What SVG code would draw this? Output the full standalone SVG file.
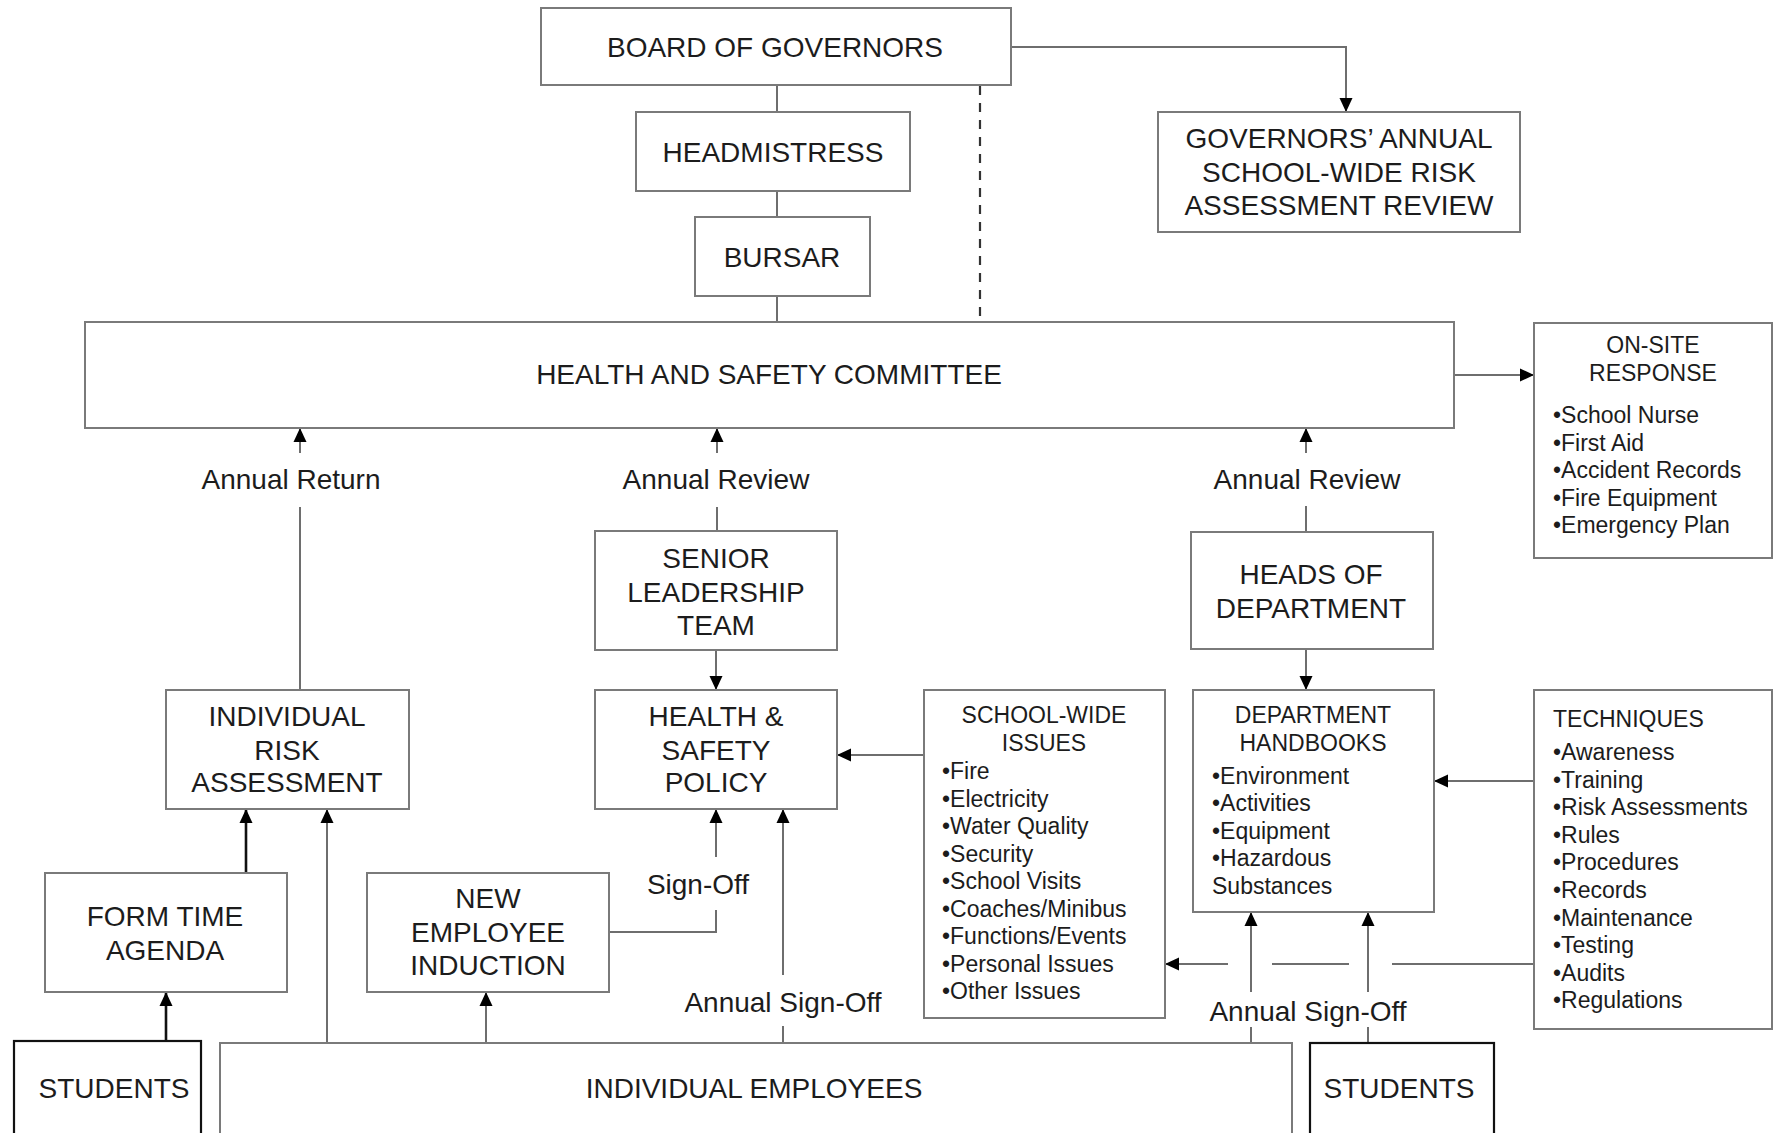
<svg xmlns="http://www.w3.org/2000/svg" width="1774" height="1133" viewBox="0 0 1774 1133">
<style>
.b{fill:#fff;stroke:#7a7a7a;stroke-width:2}
.s{fill:#fff;stroke:#111;stroke-width:2.2}
.t{font-family:"Liberation Sans",Arial,sans-serif;font-size:28px;fill:#1c1c1c;text-anchor:middle}
.m{font-family:"Liberation Sans",Arial,sans-serif;font-size:23px;fill:#1c1c1c;text-anchor:middle}
.l{font-family:"Liberation Sans",Arial,sans-serif;font-size:23px;fill:#1c1c1c;text-anchor:start}
.c{fill:none;stroke:#6e6e6e;stroke-width:2}
.k{fill:none;stroke:#111;stroke-width:2.6}
.d{fill:none;stroke:#333;stroke-width:2.2;stroke-dasharray:9 8}
</style>
<defs>
<marker id="ah" viewBox="0 0 14 14" refX="14" refY="7" markerWidth="14" markerHeight="14" markerUnits="userSpaceOnUse" orient="auto">
<path d="M0,0.5 L14,7 L0,13.5 z" fill="#000"/>
</marker>
</defs>
<rect width="1774" height="1133" fill="#fff"/>

<g id="connectors">
<path class="c" d="M777,85 V112"/>
<path class="c" d="M777,191 V217"/>
<path class="c" d="M777,296 V322"/>
<path class="d" d="M980,86 V322"/>
<path class="c" d="M1011,47 H1346 V112" marker-end="url(#ah)"/>
<path class="c" d="M1454,375 H1534" marker-end="url(#ah)"/>
<path class="c" d="M300,453 V428" marker-end="url(#ah)"/>
<path class="c" d="M300,507 V690"/>
<path class="c" d="M717,453 V428" marker-end="url(#ah)"/>
<path class="c" d="M717,507 V531"/>
<path class="c" d="M1306,453 V428" marker-end="url(#ah)"/>
<path class="c" d="M1306,506 V532"/>
<path class="c" d="M716,650 V690" marker-end="url(#ah)"/>
<path class="c" d="M1306,649 V690" marker-end="url(#ah)"/>
<path class="c" d="M924,755 H837" marker-end="url(#ah)"/>
<path class="c" d="M1534,781 H1434" marker-end="url(#ah)"/>
<path class="c" d="M1534,964 H1392"/>
<path class="c" d="M1349,964 H1272"/>
<path class="c" d="M1228,964 H1165" marker-end="url(#ah)"/>
<path class="c" d="M1251,992 V912" marker-end="url(#ah)"/>
<path class="c" d="M1368,992 V912" marker-end="url(#ah)"/>
<path class="c" d="M1251,1027 V1043"/>
<path class="c" d="M1368,1027 V1043"/>
<path class="k" d="M246,873 V809" marker-end="url(#ah)"/>
<path class="k" d="M166,1040 V992" marker-end="url(#ah)"/>
<path class="c" d="M327,1043 V809" marker-end="url(#ah)"/>
<path class="c" d="M486,1043 V992" marker-end="url(#ah)"/>
<path class="c" d="M609,932 H716 V910"/>
<path class="c" d="M716,857 V809" marker-end="url(#ah)"/>
<path class="c" d="M783,1026 V1043"/>
<path class="c" d="M783,975 V809" marker-end="url(#ah)"/>
</g>

<g id="board">
<rect class="b" x="541" y="8" width="470" height="77"/>
<text class="t" x="775" y="57">BOARD OF GOVERNORS</text>
</g>
<g id="headmistress">
<rect class="b" x="636" y="112" width="274" height="79"/>
<text class="t" x="773" y="162">HEADMISTRESS</text>
</g>
<g id="bursar">
<rect class="b" x="695" y="217" width="175" height="79"/>
<text class="t" x="782" y="267">BURSAR</text>
</g>
<g id="hsc">
<rect class="b" x="85" y="322" width="1369" height="106"/>
<text class="t" x="769" y="384">HEALTH AND SAFETY  COMMITTEE</text>
</g>
<g id="review">
<rect class="b" x="1158" y="112" width="362" height="120"/>
<text class="t" x="1339" y="148">GOVERNORS’ ANNUAL</text>
<text class="t" x="1339" y="182">SCHOOL-WIDE RISK</text>
<text class="t" x="1339" y="215">ASSESSMENT  REVIEW</text>
</g>
<g id="onsite">
<rect class="b" x="1534" y="323" width="238" height="235"/>
<text class="m" x="1653" y="353">ON-SITE</text>
<text class="m" x="1653" y="381">RESPONSE</text>
<text class="l" x="1553" y="423">•School Nurse</text>
<text class="l" x="1553" y="451">•First Aid</text>
<text class="l" x="1553" y="478">•Accident Records</text>
<text class="l" x="1553" y="506">•Fire Equipment</text>
<text class="l" x="1553" y="533">•Emergency Plan</text>
</g>
<g id="labels">
<text class="t" x="291" y="489">Annual  Return</text>
<text class="t" x="716" y="489">Annual  Review</text>
<text class="t" x="1307" y="489">Annual  Review</text>
<text class="t" x="698" y="894">Sign-Off</text>
<text class="t" x="783" y="1012">Annual  Sign-Off</text>
<text class="t" x="1308" y="1021">Annual  Sign-Off</text>
</g>
<g id="slt">
<rect class="b" x="595" y="531" width="242" height="119"/>
<text class="t" x="716" y="568">SENIOR</text>
<text class="t" x="716" y="602">LEADERSHIP</text>
<text class="t" x="716" y="635">TEAM</text>
</g>
<g id="hod">
<rect class="b" x="1191" y="532" width="242" height="117"/>
<text class="t" x="1311" y="584">HEADS OF</text>
<text class="t" x="1311" y="618">DEPARTMENT</text>
</g>
<g id="ira">
<rect class="b" x="166" y="690" width="243" height="119"/>
<text class="t" x="287" y="726">INDIVIDUAL</text>
<text class="t" x="287" y="760">RISK</text>
<text class="t" x="287" y="792">ASSESSMENT</text>
</g>
<g id="hsp">
<rect class="b" x="595" y="690" width="242" height="119"/>
<text class="t" x="716" y="726">HEALTH &amp;</text>
<text class="t" x="716" y="760">SAFETY</text>
<text class="t" x="716" y="792">POLICY</text>
</g>
<g id="swi">
<rect class="b" x="924" y="690" width="241" height="328"/>
<text class="m" x="1044" y="723">SCHOOL-WIDE</text>
<text class="m" x="1044" y="751">ISSUES</text>
<text class="l" x="942" y="779">•Fire</text>
<text class="l" x="942" y="807">•Electricity</text>
<text class="l" x="942" y="834">•Water Quality</text>
<text class="l" x="942" y="862">•Security</text>
<text class="l" x="942" y="889">•School Visits</text>
<text class="l" x="942" y="917">•Coaches/Minibus</text>
<text class="l" x="942" y="944">•Functions/Events</text>
<text class="l" x="942" y="972">•Personal Issues</text>
<text class="l" x="942" y="999">•Other Issues</text>
</g>
<g id="dh">
<rect class="b" x="1193" y="690" width="241" height="222"/>
<text class="m" x="1313" y="723">DEPARTMENT</text>
<text class="m" x="1313" y="751">HANDBOOKS</text>
<text class="l" x="1212" y="784">•Environment</text>
<text class="l" x="1212" y="811">•Activities</text>
<text class="l" x="1212" y="839">•Equipment</text>
<text class="l" x="1212" y="866">•Hazardous</text>
<text class="l" x="1212" y="894">Substances</text>
</g>
<g id="techniques">
<rect class="b" x="1534" y="690" width="238" height="339"/>
<text class="l" x="1553" y="727">TECHNIQUES</text>
<text class="l" x="1553" y="760">•Awareness</text>
<text class="l" x="1553" y="788">•Training</text>
<text class="l" x="1553" y="815">•Risk Assessments</text>
<text class="l" x="1553" y="843">•Rules</text>
<text class="l" x="1553" y="870">•Procedures</text>
<text class="l" x="1553" y="898">•Records</text>
<text class="l" x="1553" y="926">•Maintenance</text>
<text class="l" x="1553" y="953">•Testing</text>
<text class="l" x="1553" y="981">•Audits</text>
<text class="l" x="1553" y="1008">•Regulations</text>
</g>
<g id="fta">
<rect class="b" x="45" y="873" width="242" height="119"/>
<text class="t" x="165" y="926">FORM TIME</text>
<text class="t" x="165" y="960">AGENDA</text>
</g>
<g id="nei">
<rect class="b" x="367" y="873" width="242" height="119"/>
<text class="t" x="488" y="908">NEW</text>
<text class="t" x="488" y="942">EMPLOYEE</text>
<text class="t" x="488" y="975">INDUCTION</text>
</g>
<g id="students-left">
<rect class="s" x="14" y="1041" width="187" height="110"/>
<text class="t" x="114" y="1098">STUDENTS</text>
</g>
<g id="employees">
<rect class="b" x="220" y="1043" width="1072" height="110"/>
<text class="t" x="754" y="1098">INDIVIDUAL EMPLOYEES</text>
</g>
<g id="students-right">
<rect class="s" x="1310" y="1043" width="184" height="110"/>
<text class="t" x="1399" y="1098">STUDENTS</text>
</g>
</svg>
